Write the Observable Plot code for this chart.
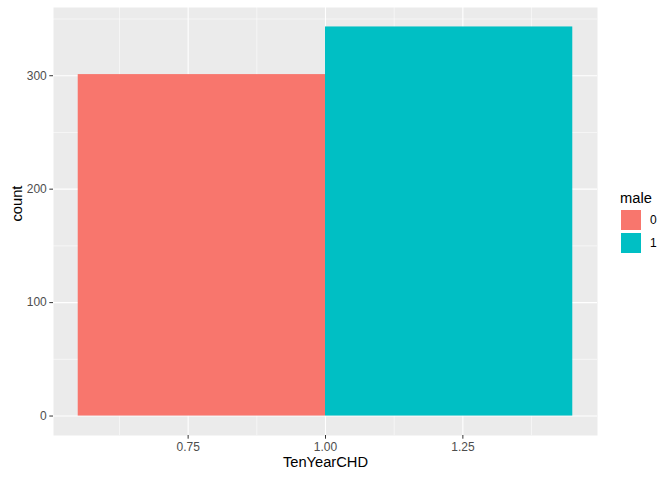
<!DOCTYPE html>
<html>
<head>
<meta charset="utf-8">
<script src="https://cdn.jsdelivr.net/npm/d3@7"></script>
<script src="https://cdn.jsdelivr.net/npm/@observablehq/plot@0.6"></script>
<style>
  html, body { margin: 0; padding: 0; background: #fff; }
  #wrap { position: relative; width: 672px; height: 480px; font-family: "Liberation Sans", Arial, sans-serif; }
  #legend { position: absolute; left: 620px; top: 189px; }
  .ltitle { font-size: 14.7px; color: #000; height: 19px; line-height: 19px; }
  .lrow { display: flex; align-items: center; height: 23px; }
  .lkey { width: 22px; height: 22px; box-sizing: border-box; border: 1px solid #fff; }
  .llab { font-size: 12px; color: #000; margin-left: 8px; }
</style>
</head>
<body>
<div id="wrap"></div>
<script>
const categories = ["0", "1"];
const counts = [301, 343];
const xValue = 1;
const barWidth = 0.9;
const colors = ["#F8766D", "#00BFC4"];
const xTicks = [0.75, 1.0, 1.25];
const xMinor = [0.625, 0.875, 1.125, 1.375];
const yTicks = [0, 100, 200, 300];
const yMinor = [50, 150, 250, 350];

const n = categories.length;
const data = categories.map((c, i) => ({
  male: c,
  count: counts[i],
  x1: xValue - barWidth / 2 + i * barWidth / n,
  x2: xValue - barWidth / 2 + (i + 1) * barWidth / n
}));

const xlo = d3.min(data, d => d.x1), xhi = d3.max(data, d => d.x2);
const xpad = (xhi - xlo) * 0.05;
const ymax = d3.max(counts);
const ypad = ymax * 0.05;

const chart = Plot.plot({
  width: 672,
  height: 480,
  marginLeft: 53,
  marginRight: 75,
  marginTop: 7,
  marginBottom: 45,
  style: { fontFamily: "Liberation Sans, Arial, sans-serif", fontSize: "12px", color: "#4D4D4D", background: "#fff" },
  x: { domain: [xlo - xpad, xhi + xpad] },
  y: { domain: [-ypad, ymax + ypad] },
  color: { domain: categories, range: colors },
  marks: [
    Plot.frame({ fill: "#EBEBEB", stroke: null }),
    Plot.ruleX(xMinor, { stroke: "#fff", strokeWidth: 0.55 }),
    Plot.ruleY(yMinor, { stroke: "#fff", strokeWidth: 0.55 }),
    Plot.ruleX(xTicks, { stroke: "#fff", strokeWidth: 1.1 }),
    Plot.ruleY(yTicks, { stroke: "#fff", strokeWidth: 1.1 }),
    Plot.rectY(data, { x1: "x1", x2: "x2", y1: 0, y2: "count", fill: "male" }),
    Plot.axisX(xTicks, { tickFormat: d3.format(".2f"), tickSize: 3.7, tickPadding: 3, stroke: "#333", fill: "#4D4D4D", label: null }),
    Plot.axisY(yTicks, { tickSize: 3.7, tickPadding: 3, stroke: "#333", fill: "#4D4D4D", label: null }),
    Plot.text(["TenYearCHD"], { frameAnchor: "bottom", dy: 31.5, fontSize: 14.7, fill: "#000", text: d => d }),
    Plot.text(["count"], { frameAnchor: "left", dx: -36, rotate: -90, fontSize: 14.7, fill: "#000", text: d => d })
  ]
});

const wrap = document.getElementById("wrap");
wrap.appendChild(chart);

const legend = document.createElement("div");
legend.id = "legend";
let html = '<div class="ltitle">male</div>';
categories.forEach((c, i) => {
  html += `<div class="lrow"><div class="lkey" style="background:${colors[i]}"></div><span class="llab">${c}</span></div>`;
});
legend.innerHTML = html;
wrap.appendChild(legend);
</script>
</body>
</html>
